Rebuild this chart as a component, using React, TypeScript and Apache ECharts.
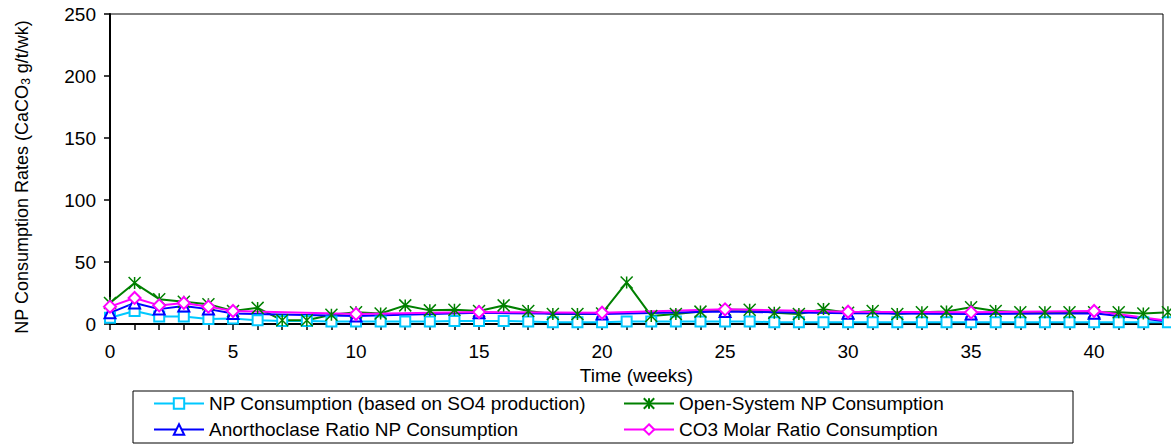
import React, { useEffect, useRef } from "react";
import * as echarts from "echarts";

const weeks = [0, 1, 2, 3, 4, 5, 6, 7, 8, 9, 10, 11, 12, 13, 14, 15, 16, 17, 18, 19, 20, 21, 22, 23, 24, 25, 26, 27, 28, 29, 30, 31, 32, 33, 34, 35, 36, 37, 38, 39, 40, 41, 42, 43];
const so4Consumption = [5, 10.5, 6, 6, 4, 4.5, 3, 2.5, 2.5, 2, 2, 2, 2, 2, 2.5, 2.5, 2.5, 2, 1.5, 1.5, 1.5, 2, 2, 2, 2, 2, 2, 1.5, 1.5, 1.5, 1.5, 1.5, 1.5, 1.5, 1.5, 1.5, 1.5, 1.5, 1.5, 1.5, 1.5, 1.5, 1.5, 1.5];
const openSystem = [17, 33, 20, 18, 16, 10.5, 13, 3, 3, 7.5, 9.5, 8.5, 15, 11, 11.5, 10.5, 15, 10.5, 8, 8, 8.5, 33.5, 6.5, 8, 10, 11.5, 11.5, 9, 8, 12, 9, 10.5, 8, 9.5, 10, 13.5, 10.5, 9.5, 9.5, 9.5, 9.5, 9.5, 8.5, 9.5];
const ratioWeeks = [0, 1, 2, 3, 4, 5, 10, 15, 20, 25, 30, 35, 40, 44];
const anorthoclase = [9, 17, 12, 14.5, 12, 8.5, 6.5, 9, 8, 10, 8.6, 8, 8.6, 0];
const co3Molar = [14, 21, 15, 17, 14, 10.5, 8, 9.7, 9.1, 11.8, 9.9, 9.4, 10.5, 0];

const names = [
  "NP Consumption (based on SO4 production)",
  "Open-System NP Consumption",
  "Anorthoclase Ratio NP Consumption",
  "CO3 Molar Ratio Consumption",
];

const FONT = "'Liberation Sans', Arial, sans-serif";

export default function App() {
  const ref = useRef<HTMLDivElement>(null);
  useEffect(() => {
    if (!ref.current) return;
    const chart = echarts.init(ref.current, null, { renderer: "svg" });
    const pair = (xs: number[], ys: number[]) => xs.map((x, i) => [x, ys[i]]);
    const starPath = "path://M6,0L6,12M0,0L12,12M0,12L12,0";
    const legendBase = {
      orient: "vertical",
      top: 394,
      itemWidth: 50,
      itemHeight: 13,
      itemGap: 7,
      padding: 0,
      selectedMode: false,
      textStyle: { fontSize: 19, color: "#000", fontFamily: FONT },
    };
    chart.setOption({
      animation: false,
      textStyle: { fontFamily: FONT },
      grid: {
        left: 110,
        top: 14,
        right: 8,
        bottom: 120,
        show: true,
        borderColor: "#000",
        borderWidth: 1,
        backgroundColor: "transparent",
      },
      xAxis: {
        type: "value",
        min: 0,
        max: 42.8,
        interval: 1,
        name: "Time (weeks)",
        nameLocation: "middle",
        nameGap: 33,
        nameTextStyle: { fontSize: 19, color: "#000", fontFamily: FONT },
        axisLine: { show: true, lineStyle: { color: "#000", width: 2 } },
        axisTick: { show: true, length: 6, lineStyle: { color: "#000", width: 1.5 } },
        axisLabel: {
          fontSize: 19,
          color: "#000",
          margin: 18,
          showMaxLabel: false,
          formatter: (v: number) => (v % 5 === 0 ? String(v) : ""),
        },
        splitLine: { show: false },
      },
      yAxis: {
        type: "value",
        min: 0,
        max: 250,
        interval: 50,
        name: "{a|NP Consumption Rates (CaCO}{s|3}{a| g/t/wk)}",
        nameLocation: "middle",
        nameGap: 78,
        nameTextStyle: {
          fontSize: 18,
          color: "#000",
          fontFamily: FONT,
          padding: [0, 16, 0, 0],
          rich: {
            a: { fontSize: 18, color: "#000", fontFamily: FONT },
            s: { fontSize: 12, color: "#000", fontFamily: FONT, padding: [9, 0, 0, 0] },
          },
        },
        axisLine: { show: true, lineStyle: { color: "#000", width: 2 } },
        axisTick: { show: true, length: 6, lineStyle: { color: "#000", width: 1.5 } },
        axisLabel: { fontSize: 19, color: "#000", margin: 14 },
        splitLine: { show: false },
      },
      legend: [
        { ...legendBase, left: 153, data: [names[0], names[2]] },
        { ...legendBase, left: 623, data: [names[1], names[3]] },
      ],
      graphic: [
        {
          type: "rect",
          shape: { x: 133, y: 391, width: 940, height: 52 },
          style: { fill: "none", stroke: "#000", lineWidth: 1 },
          z: -1,
        },
      ],
      series: [
        {
          name: names[0],
          type: "line",
          clip: false,
          data: pair(weeks, so4Consumption),
          symbol: "emptyRect",
          symbolSize: 10,
          lineStyle: { color: "#00C8FF", width: 2 },
          itemStyle: { color: "#00C8FF", borderColor: "#00C8FF", borderWidth: 1.5 },
        },
        {
          name: names[1],
          type: "line",
          clip: false,
          data: pair(weeks, openSystem),
          symbol: starPath,
          symbolSize: 12,
          lineStyle: { color: "#008000", width: 2 },
          itemStyle: { color: "#008000", borderColor: "#008000", borderWidth: 1.5 },
        },
        {
          name: names[2],
          type: "line",
          clip: false,
          data: pair(ratioWeeks, anorthoclase),
          symbol: "emptyTriangle",
          symbolSize: 11,
          lineStyle: { color: "#0000FF", width: 2 },
          itemStyle: { color: "#0000FF", borderColor: "#0000FF", borderWidth: 1.5 },
        },
        {
          name: names[3],
          type: "line",
          clip: false,
          data: pair(ratioWeeks, co3Molar),
          symbol: "emptyDiamond",
          symbolSize: 12,
          lineStyle: { color: "#FF00FF", width: 2 },
          itemStyle: { color: "#FF00FF", borderColor: "#FF00FF", borderWidth: 1.5 },
        },
      ],
    });
    return () => chart.dispose();
  }, []);
  return (
    <div
      ref={ref}
      style={{ position: "fixed", left: 0, top: 0, width: 1171, height: 444, background: "#fff" }}
    />
  );
}
